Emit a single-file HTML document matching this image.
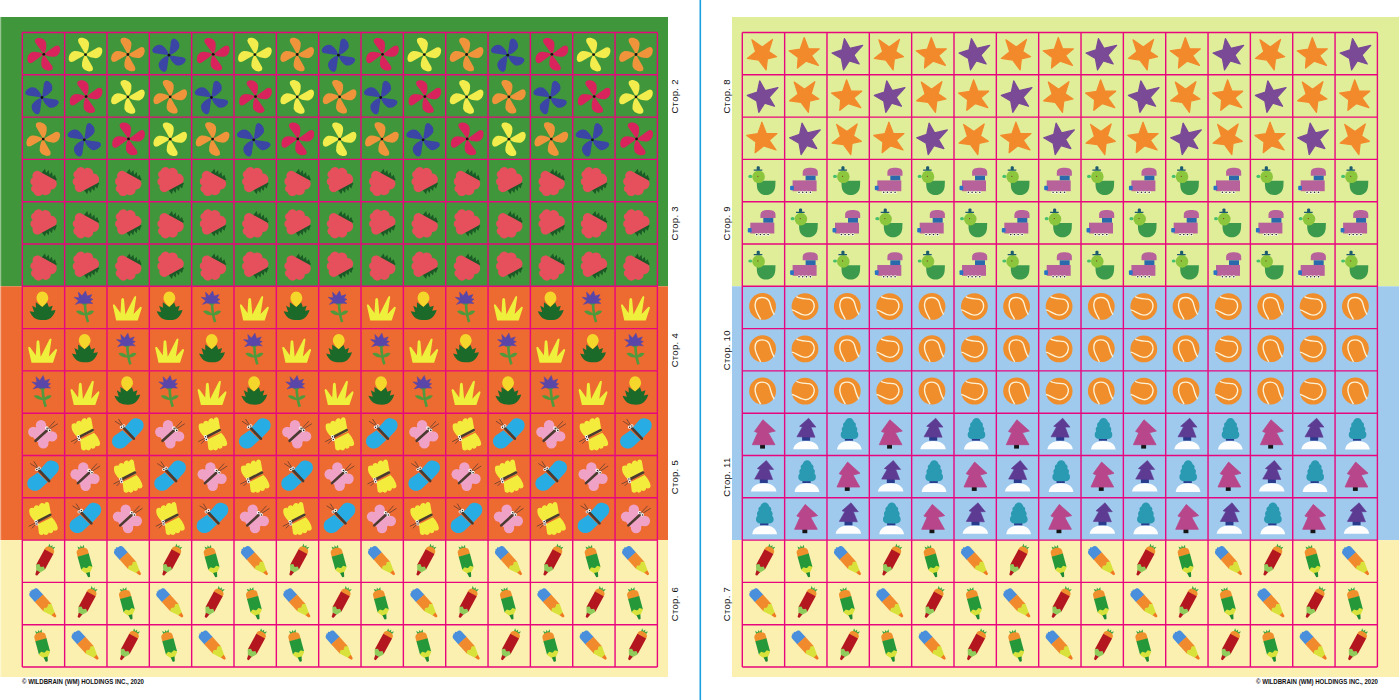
<!DOCTYPE html>
<html><head><meta charset="utf-8"><style>
html,body{margin:0;padding:0;background:#fff;width:1400px;height:700px;overflow:hidden}
svg{display:block}
.lab{font-family:"Liberation Sans",sans-serif;font-size:9.5px;letter-spacing:0.3px;fill:#111}
.ft{font-family:"Liberation Sans",sans-serif;font-size:8px;font-weight:bold;fill:#111}
</style></head><body>
<svg width="1400" height="700" viewBox="0 0 1400 700">
<defs><symbol id="pw0" overflow="visible"><g transform="translate(21.5,21.8) rotate(-14) scale(0.97)" fill="#d8235c"><path d="M0,0 L-5.4,-13.4 Q-6.4,-17.8 -2.5,-17.8 C1.6,-17.6 5,-14.6 5.2,-11 Q4.6,-4.5 0,0Z" transform="rotate(0)"/><path d="M0,0 L-5.4,-13.4 Q-6.4,-17.8 -2.5,-17.8 C1.6,-17.6 5,-14.6 5.2,-11 Q4.6,-4.5 0,0Z" transform="rotate(90)"/><path d="M0,0 L-5.4,-13.4 Q-6.4,-17.8 -2.5,-17.8 C1.6,-17.6 5,-14.6 5.2,-11 Q4.6,-4.5 0,0Z" transform="rotate(180)"/><path d="M0,0 L-5.4,-13.4 Q-6.4,-17.8 -2.5,-17.8 C1.6,-17.6 5,-14.6 5.2,-11 Q4.6,-4.5 0,0Z" transform="rotate(270)"/></g><circle cx="21.5" cy="21.8" r="1.4" fill="#111"/></symbol><symbol id="pw1" overflow="visible"><g transform="translate(20.9,22.1) rotate(-8) scale(0.97)" fill="#f2ec4c"><path d="M0,0 L-5.4,-13.4 Q-6.4,-17.8 -2.5,-17.8 C1.6,-17.6 5,-14.6 5.2,-11 Q4.6,-4.5 0,0Z" transform="rotate(0)"/><path d="M0,0 L-5.4,-13.4 Q-6.4,-17.8 -2.5,-17.8 C1.6,-17.6 5,-14.6 5.2,-11 Q4.6,-4.5 0,0Z" transform="rotate(90)"/><path d="M0,0 L-5.4,-13.4 Q-6.4,-17.8 -2.5,-17.8 C1.6,-17.6 5,-14.6 5.2,-11 Q4.6,-4.5 0,0Z" transform="rotate(180)"/><path d="M0,0 L-5.4,-13.4 Q-6.4,-17.8 -2.5,-17.8 C1.6,-17.6 5,-14.6 5.2,-11 Q4.6,-4.5 0,0Z" transform="rotate(270)"/></g><circle cx="20.9" cy="22.1" r="1.4" fill="#111"/></symbol><symbol id="pw2" overflow="visible"><g transform="translate(20.9,22.0) rotate(-8) scale(0.97)" fill="#f0943c"><path d="M0,0 L-5.4,-13.4 Q-6.4,-17.8 -2.5,-17.8 C1.6,-17.6 5,-14.6 5.2,-11 Q4.6,-4.5 0,0Z" transform="rotate(0)"/><path d="M0,0 L-5.4,-13.4 Q-6.4,-17.8 -2.5,-17.8 C1.6,-17.6 5,-14.6 5.2,-11 Q4.6,-4.5 0,0Z" transform="rotate(90)"/><path d="M0,0 L-5.4,-13.4 Q-6.4,-17.8 -2.5,-17.8 C1.6,-17.6 5,-14.6 5.2,-11 Q4.6,-4.5 0,0Z" transform="rotate(180)"/><path d="M0,0 L-5.4,-13.4 Q-6.4,-17.8 -2.5,-17.8 C1.6,-17.6 5,-14.6 5.2,-11 Q4.6,-4.5 0,0Z" transform="rotate(270)"/></g><circle cx="20.9" cy="22.0" r="1.4" fill="#111"/></symbol><symbol id="pw3" overflow="visible"><g transform="translate(19.7,22.7) rotate(30) scale(0.97)" fill="#3b45a6"><path d="M0,0 L-5.4,-13.4 Q-6.4,-17.8 -2.5,-17.8 C1.6,-17.6 5,-14.6 5.2,-11 Q4.6,-4.5 0,0Z" transform="rotate(0)"/><path d="M0,0 L-5.4,-13.4 Q-6.4,-17.8 -2.5,-17.8 C1.6,-17.6 5,-14.6 5.2,-11 Q4.6,-4.5 0,0Z" transform="rotate(90)"/><path d="M0,0 L-5.4,-13.4 Q-6.4,-17.8 -2.5,-17.8 C1.6,-17.6 5,-14.6 5.2,-11 Q4.6,-4.5 0,0Z" transform="rotate(180)"/><path d="M0,0 L-5.4,-13.4 Q-6.4,-17.8 -2.5,-17.8 C1.6,-17.6 5,-14.6 5.2,-11 Q4.6,-4.5 0,0Z" transform="rotate(270)"/></g><circle cx="19.7" cy="22.7" r="1.4" fill="#111"/></symbol><symbol id="sbA" overflow="visible"><path fill="#1a5a26" d="M18.86,14.13 L20.25,12.39 L22.71,9.39 L23.75,13.61 L26.37,10.71 L27.13,15.45 L29.66,12.72 L30.51,17.29 L32.66,15.27 L33.89,19.13 L34.76,19.94 L32.48,22.12Z"/><path fill="#e6505c" d="M16.3,11.6 L33.2,20.8 A5.91,5.91 0 0 1 28.6,30.3 A5.44,5.44 0 0 1 20,34.8 A4.98,4.98 0 0 1 11.3,33 A3.95,3.95 0 0 1 10.4,26 A4.37,4.37 0 0 1 10.4,18.2 A4.96,4.96 0 0 1 16.3,11.6Z"/></symbol><symbol id="sbB" overflow="visible"><g transform="translate(0,44.3) scale(1,-1)"><path fill="#1a5a26" d="M18.86,14.13 L20.25,12.39 L22.71,9.39 L23.75,13.61 L26.37,10.71 L27.13,15.45 L29.66,12.72 L30.51,17.29 L32.66,15.27 L33.89,19.13 L34.76,19.94 L32.48,22.12Z"/><path fill="#e6505c" d="M16.3,11.6 L33.2,20.8 A5.91,5.91 0 0 1 28.6,30.3 A5.44,5.44 0 0 1 20,34.8 A4.98,4.98 0 0 1 11.3,33 A3.95,3.95 0 0 1 10.4,26 A4.37,4.37 0 0 1 10.4,18.2 A4.96,4.96 0 0 1 16.3,11.6Z"/></g></symbol><symbol id="flT" overflow="visible"><path fill="#f5d62a" d="M20,5.3 C23.5,5.3 26,8.5 26,12 C26,15.5 22,19 20,21 C18,19 14.2,15.5 14.2,12 C14.2,8.5 16.5,5.3 20,5.3Z"/><path fill="#1b6a2a" d="M20,20.6 L24.9,16.3 L26.5,20.8 L30.4,19.4 L28.8,24.5 L33.2,23.6 C32,28 29,32 25.5,33.2 C22,34.2 16,34 12,31.6 C10,30 8.5,27.5 7.4,24.9 L11.8,25.8 L9.8,19.4 L13.6,21.5 L13.5,16Z"/></symbol><symbol id="flC" overflow="visible"><path d="M20.3,17.5 C20.5,23 21,29 23.4,35.8" stroke="#4e9a3c" stroke-width="2.6" fill="none"/><path fill="#4e9a3c" d="M11.4,24.9 C14,23.3 18.5,24.8 21.2,28.8 C17.5,29.6 13.5,27.8 11.4,24.9Z M29.5,24.9 C27,23.3 23,24.8 21,28.8 C24.5,29.6 27.5,27.8 29.5,24.9Z"/><ellipse cx="20" cy="17" rx="3" ry="1.5" fill="#4e9a3c"/><path fill="#5a46a8" stroke="#5a46a8" stroke-width="0.5" stroke-linejoin="round" d="M9.5,11 L14.5,11.5 L13.8,5.8 L17.5,9.5 L20.9,4.6 L22.5,9.8 L27.3,8.3 L25.3,12 L28.3,12.9 L25.5,15 L28.3,17.2 L23,17 L19,17.3 L15,16.8 L10.7,18.1 L14,14.5Z"/></symbol><symbol id="flG" overflow="visible"><path fill="#eef03c" d="M9.2,34.1 L5.9,19.5 Q6.2,17.2 7.8,18.6 L13.5,26.7 L14.3,13 Q15.7,10.6 17,12.8 L18.4,28.2 L27.2,10.6 Q28.9,8.8 29.2,11 L26.6,27.8 L33.4,20.5 Q35.2,20.2 34.7,22 L30.7,34.1Z"/></symbol><symbol id="bfP" overflow="visible"><g fill="#f0a2c6"><circle cx="18.7" cy="12" r="5.2"/><circle cx="11" cy="18.8" r="5.2"/><circle cx="29.8" cy="23.2" r="5.2"/><circle cx="21" cy="30.2" r="5.2"/><path d="M13.3,27.6 L8,19.5 L18.7,9 L26,16 L32,24 L21,33Z"/></g><path d="M13.3,27.6 L26,16" stroke="#4a3a30" stroke-width="2.6" stroke-linecap="round"/><path d="M26,15 L32.5,8 M27,16 L35.5,10.5" stroke="#4a3a30" stroke-width="0.7" fill="none"/><circle cx="24.5" cy="14.8" r="1.7" fill="#fff"/><circle cx="27.2" cy="17" r="1.7" fill="#fff"/><circle cx="24.8" cy="15" r="0.8" fill="#222"/><circle cx="27.4" cy="17.2" r="0.8" fill="#222"/></symbol><symbol id="bfY" overflow="visible"><g fill="#f3ec3c"><path d="M7,12.5 C7,10 10,9.5 11.5,10.5 C11.5,7.5 15,6.5 16.5,8.5 C17,5 20.5,4 22,6.5 C23,3 27,3.5 27,7 L29,18.5 L14,24.5 C9,21 6.5,16 7,12.5Z"/><path d="M15.5,26.5 L29.5,19.5 C33,23 35.5,28 35.5,30.5 C35.5,33 32,33.5 31,32.5 C31,35.5 27.5,36.5 26.5,34.5 C26,37.5 22.5,38 21.5,36 C20,38 16.5,37.5 16.5,34.5Z"/></g><path d="M14.3,24 L28,17" stroke="#4a3a30" stroke-width="2.6" stroke-linecap="round"/><path d="M13.5,25 L6.5,28.5 M14,26 L9.5,30.5" stroke="#4a3a30" stroke-width="0.7" fill="none"/><circle cx="13.8" cy="23.5" r="1.6" fill="#fff"/><circle cx="14.6" cy="26.2" r="1.6" fill="#fff"/><circle cx="13.8" cy="23.6" r="0.75" fill="#222"/><circle cx="14.6" cy="26.3" r="0.75" fill="#222"/></symbol><symbol id="bfB" overflow="visible"><g fill="#27ade4"><path d="M17.5,14.5 L24,7 C27,4 32,4.5 35,7.5 C37.5,10.5 37,15 34,18 L27.5,25Z"/><path d="M15.5,17 L25.5,26.5 L18,33.5 C15,36 10,36 7,33 C4,30 4.5,25 7.5,22.5Z"/></g><path d="M16,14 L26.8,25.5" stroke="#4a3a30" stroke-width="2.6" stroke-linecap="round"/><path d="M15,12.5 L8,8 M15.5,12 L11.5,5.8" stroke="#4a3a30" stroke-width="0.7" fill="none"/><circle cx="14.5" cy="14" r="1.6" fill="#fff"/><circle cx="16.8" cy="12.6" r="1.6" fill="#fff"/><circle cx="14.5" cy="14.1" r="0.75" fill="#222"/><circle cx="16.8" cy="12.7" r="0.75" fill="#222"/></symbol><symbol id="pcR" overflow="visible"><g transform="translate(21.9,20.2) rotate(28.4)"><path fill="#3aa844" d="M-2.8,-13.2 L-3.4,-17.2 L-1,-15.2 L0,-17.5 L1,-15.2 L3.4,-17.2 L2.8,-13.2Z"/><path fill="#f0902c" d="M-5.0,-9.5 L-5.0,-10.7 C-5.0,-13.7 -2.5,-14.7 0,-14.7 C2.5,-14.7 5.0,-13.7 5.0,-10.7 L5.0,-9.5Z"/><path fill="#b3161e" d="M-5.0,-10 L5.0,-10 L5.0,7.7 L-5.0,7.7Z"/><path fill="#8fcc5c" d="M-5.0,7.5 L-2.5,5.7 L0,7.5 L2.5,5.7 L5.0,7.5 L4.75,8.5 L2,13.1 L-2,13.1 L-4.75,8.5Z"/><path fill="#b3161e" d="M-2,12.5 L2,12.5 L1.1,16.7 Q0,17.5 -1.1,16.7Z"/></g></symbol><symbol id="pcG" overflow="visible"><g transform="translate(20.3,21.3) rotate(-15.2)"><path fill="#3aa844" d="M-2.8,-12.399999999999999 L-3.4,-16.4 L-1,-14.399999999999999 L0,-16.7 L1,-14.399999999999999 L3.4,-16.4 L2.8,-12.399999999999999Z"/><path fill="#f0902c" d="M-5.8,-6.0 L-5.8,-9.899999999999999 C-5.8,-12.899999999999999 -2.5,-13.899999999999999 0,-13.899999999999999 C2.5,-13.899999999999999 5.8,-12.899999999999999 5.8,-9.899999999999999 L5.8,-6.0Z"/><path fill="#25993a" d="M-5.8,-6.5 L5.8,-6.5 L5.8,7.2 L-5.8,7.2Z"/><path fill="#d9e23a" d="M-5.8,7 L-2.9,5.2 L0,7 L2.9,5.2 L5.8,7 L5.51,8 L2,12.1 L-2,12.1 L-5.51,8Z"/><path fill="#1e8a33" d="M-2,11.5 L2,11.5 L1.1,15.899999999999999 Q0,16.7 -1.1,15.899999999999999Z"/></g></symbol><symbol id="pcO" overflow="visible"><g transform="translate(21.3,21.0) rotate(-42)"><path fill="#4a8fdc" d="M-5.5,-6.6 L-5.5,-13.899999999999999 C-5.5,-16.4 -3.5,-17.2 -2.5,-17.2 L-2.5,-18.4 L-1,-17.4 L0.5,-18.4 L1.2,-17.2 C3.5,-17.2 5.5,-16.4 5.5,-13.899999999999999 L5.5,-6.6Z"/><path fill="#f08a2c" d="M-5.5,-7 L5.5,-7 L5.5,5.7 L-5.5,5.7Z"/><path fill="#d8e23a" d="M-5.5,5.5 L-2.75,3.7 L0,5.5 L2.75,3.7 L5.5,5.5 L5.225,6.5 L2,14.6 L-2,14.6 L-5.225,6.5Z"/><path fill="#f07a22" d="M-2,14 L2,14 L1.1,17.9 Q0,18.7 -1.1,17.9Z"/></g></symbol><symbol id="stA" overflow="visible"><path d="M30.2,6.9 L26.5,18.9 L34.3,24.2 L25.1,26.3 L23.8,37.5 L16.5,27.6 L5.0,26.0 L13.4,19.3 L9.6,7.3 L19.9,14.5Z" fill="#f28a2c" stroke="#f28a2c" stroke-width="1.2" stroke-linejoin="round"/></symbol><symbol id="stB" overflow="visible"><path d="M19.6,5.0 L23.9,16.2 L34.7,16.4 L26.9,23.1 L33.8,32.9 L21.4,28.8 L12.8,35.6 L13.6,24.9 L4.5,18.3 L15.6,16.6Z" fill="#f28a2c" stroke="#f28a2c" stroke-width="1.2" stroke-linejoin="round"/></symbol><symbol id="stC" overflow="visible"><path d="M17.4,6.0 L22.9,15.8 L35.7,12.8 L26.9,22.5 L32.2,31.5 L22.3,28.5 L16.5,37.5 L14.4,26.1 L5.0,20.6 L15.0,17.3Z" fill="#7a4a96" stroke="#7a4a96" stroke-width="1.2" stroke-linejoin="round"/></symbol><symbol id="dk" overflow="visible"><path fill="#3c9a4c" d="M14.4,21.3 L33.2,21.3 L33,26.5 C32.6,32.5 28.5,35.6 23.8,35.6 C19,35.6 14.9,32.5 14.6,26.5Z"/><ellipse cx="8" cy="17" rx="2" ry="1.6" fill="#45c06c"/><circle cx="16.3" cy="17.4" r="6.3" fill="#8cc63c"/><circle cx="15.6" cy="16.9" r="0.6" fill="#7a3a20"/><path fill="#1c5a6e" d="M14.4,10 L14.4,7.5 C14.4,6.5 17.5,6.5 17.5,7.5 L17.5,10 L20,10 L20,11.3 L11.4,11.3 L11.4,10Z"/></symbol><symbol id="sh" overflow="visible"><path fill="#b8629c" d="M18.1,16.3 L18.1,13 C18.1,9 22,8.3 25.6,8.3 C29.5,8.3 33.2,9 33.2,13 L33.2,16.3Z"/><rect x="21" y="16.3" width="10" height="4.8" fill="#2a6aac"/><rect x="8" y="21" width="24" height="10.8" fill="#b8629c"/><rect x="5.5" y="26.3" width="3.8" height="4.6" rx="1" fill="#2a72c4"/><g fill="#fff"><circle cx="14.4" cy="32.8" r="1.5"/><circle cx="18.1" cy="32.8" r="1.5"/><circle cx="21.8" cy="32.8" r="1.5"/><circle cx="25.8" cy="32.8" r="1.5"/></g><g fill="#222"><circle cx="14.4" cy="32.8" r="0.8"/><circle cx="18.1" cy="32.8" r="0.8"/><circle cx="21.8" cy="32.8" r="0.8"/><circle cx="25.8" cy="32.8" r="0.8"/></g></symbol><symbol id="tbA" overflow="visible"><circle cx="20.3" cy="20.1" r="13.4" fill="#f08e2c"/><path d="M18.4,33.2 C16,29 12.6,24 12.8,18.5 C13,13 16,11.2 19.5,11.2 C23,11.2 26.5,13 27.5,16.5 C28.5,20 29.5,25 32,28.3" stroke="#fbf3d8" stroke-width="1.35" fill="none"/></symbol><symbol id="tbB" overflow="visible"><circle cx="20.4" cy="20.3" r="13.4" fill="#f08e2c"/><path d="M11.8,10.2 C14,12.5 20,12.3 24.5,12.8 C28,13.5 30,17 29.6,20.5 C29.2,25 25,28.8 20.5,28.8 C15,28.5 11,24 7.3,23.6" stroke="#fbf3d8" stroke-width="1.35" fill="none"/></symbol><symbol id="trP" overflow="visible"><rect x="17.8" y="31" width="4.9" height="4.4" fill="#151515"/><path fill="#b8468a" stroke="#b8468a" stroke-width="0.8" stroke-linejoin="round" d="M20.6,6.6 L33,17.8 L26,19.5 L32.7,31.5 L10,31.5 L15.4,19.5 L12.2,18.2Z"/></symbol><symbol id="trU" overflow="visible"><path fill="#fefefe" d="M8.6,36 C9.5,31 14,27.8 21.5,27.8 C29,27.8 33.5,31 34.1,36Z"/><rect x="17.5" y="23" width="8" height="4.5" fill="#2a3a8c"/><path fill="#5e3b92" stroke="#5e3b92" stroke-width="0.6" stroke-linejoin="round" d="M24,5 L31.3,13.9 L26.4,13.9 L30.4,24 L12.3,23.6 L17.8,13.9 L15,13Z"/></symbol><symbol id="trT" overflow="visible"><path fill="#fefefe" d="M10,36.4 C10.5,31 15,27.8 22.3,27.8 C29.5,27.8 34,31 34.7,36.4Z"/><rect x="17.8" y="24" width="8.3" height="3.5" fill="#2a3a8c"/><path fill="#2a9ab2" d="M22.6,4.8 C24.8,4.8 26.6,6.5 27,8.8 C28.8,9.4 29.4,11.5 28.6,13 C30.3,13.8 30.8,16.5 29.8,18 C31.3,19 31.8,22 30.8,23.8 C29.8,25.5 27.5,25.8 25,25.8 L20,25.8 C17.5,25.8 15,25.5 14.2,23.8 C13.2,22 13.7,19 15.2,18 C14.2,16.5 14.7,13.8 16.4,13 C15.6,11.5 16.2,9.4 18,8.8 C18.4,6.5 20.2,4.8 22.6,4.8Z"/></symbol></defs>
<rect x="0" y="17" width="668" height="269.29999999999995" fill="#40963a"/>
<rect x="0" y="286.29999999999995" width="668" height="253.79999999999995" fill="#ed6a30"/>
<rect x="0" y="540.0999999999999" width="668" height="136.9000000000001" fill="#fcf0b0"/>
<rect x="732" y="17" width="667" height="269.29999999999995" fill="#e0ee9a"/>
<rect x="732" y="286.29999999999995" width="667" height="253.79999999999995" fill="#9fcaee"/>
<rect x="732" y="540.0999999999999" width="667" height="136.9000000000001" fill="#fcf0b0"/>
<rect x="0" y="17" width="1.2" height="660" fill="#fff" fill-opacity="0.45"/>
<use href="#pw0" x="22.3" y="32.5"/>
<use href="#stA" x="742.3" y="32.5"/>
<use href="#pw1" x="64.6" y="32.5"/>
<use href="#stB" x="784.6" y="32.5"/>
<use href="#pw2" x="107.0" y="32.5"/>
<use href="#stC" x="827.0" y="32.5"/>
<use href="#pw3" x="149.3" y="32.5"/>
<use href="#stA" x="869.3" y="32.5"/>
<use href="#pw0" x="191.7" y="32.5"/>
<use href="#stB" x="911.7" y="32.5"/>
<use href="#pw1" x="234.0" y="32.5"/>
<use href="#stC" x="954.0" y="32.5"/>
<use href="#pw2" x="276.3" y="32.5"/>
<use href="#stA" x="996.3" y="32.5"/>
<use href="#pw3" x="318.7" y="32.5"/>
<use href="#stB" x="1038.7" y="32.5"/>
<use href="#pw0" x="361.0" y="32.5"/>
<use href="#stC" x="1081.0" y="32.5"/>
<use href="#pw1" x="403.4" y="32.5"/>
<use href="#stA" x="1123.4" y="32.5"/>
<use href="#pw2" x="445.7" y="32.5"/>
<use href="#stB" x="1165.7" y="32.5"/>
<use href="#pw3" x="488.0" y="32.5"/>
<use href="#stC" x="1208.0" y="32.5"/>
<use href="#pw0" x="530.4" y="32.5"/>
<use href="#stA" x="1250.4" y="32.5"/>
<use href="#pw1" x="572.7" y="32.5"/>
<use href="#stB" x="1292.7" y="32.5"/>
<use href="#pw2" x="615.1" y="32.5"/>
<use href="#stC" x="1335.1" y="32.5"/>
<use href="#pw3" x="22.3" y="74.8"/>
<use href="#stC" x="742.3" y="74.8"/>
<use href="#pw0" x="64.6" y="74.8"/>
<use href="#stA" x="784.6" y="74.8"/>
<use href="#pw1" x="107.0" y="74.8"/>
<use href="#stB" x="827.0" y="74.8"/>
<use href="#pw2" x="149.3" y="74.8"/>
<use href="#stC" x="869.3" y="74.8"/>
<use href="#pw3" x="191.7" y="74.8"/>
<use href="#stA" x="911.7" y="74.8"/>
<use href="#pw0" x="234.0" y="74.8"/>
<use href="#stB" x="954.0" y="74.8"/>
<use href="#pw1" x="276.3" y="74.8"/>
<use href="#stC" x="996.3" y="74.8"/>
<use href="#pw2" x="318.7" y="74.8"/>
<use href="#stA" x="1038.7" y="74.8"/>
<use href="#pw3" x="361.0" y="74.8"/>
<use href="#stB" x="1081.0" y="74.8"/>
<use href="#pw0" x="403.4" y="74.8"/>
<use href="#stC" x="1123.4" y="74.8"/>
<use href="#pw1" x="445.7" y="74.8"/>
<use href="#stA" x="1165.7" y="74.8"/>
<use href="#pw2" x="488.0" y="74.8"/>
<use href="#stB" x="1208.0" y="74.8"/>
<use href="#pw3" x="530.4" y="74.8"/>
<use href="#stC" x="1250.4" y="74.8"/>
<use href="#pw0" x="572.7" y="74.8"/>
<use href="#stA" x="1292.7" y="74.8"/>
<use href="#pw1" x="615.1" y="74.8"/>
<use href="#stB" x="1335.1" y="74.8"/>
<use href="#pw2" x="22.3" y="117.1"/>
<use href="#stB" x="742.3" y="117.1"/>
<use href="#pw3" x="64.6" y="117.1"/>
<use href="#stC" x="784.6" y="117.1"/>
<use href="#pw0" x="107.0" y="117.1"/>
<use href="#stA" x="827.0" y="117.1"/>
<use href="#pw1" x="149.3" y="117.1"/>
<use href="#stB" x="869.3" y="117.1"/>
<use href="#pw2" x="191.7" y="117.1"/>
<use href="#stC" x="911.7" y="117.1"/>
<use href="#pw3" x="234.0" y="117.1"/>
<use href="#stA" x="954.0" y="117.1"/>
<use href="#pw0" x="276.3" y="117.1"/>
<use href="#stB" x="996.3" y="117.1"/>
<use href="#pw1" x="318.7" y="117.1"/>
<use href="#stC" x="1038.7" y="117.1"/>
<use href="#pw2" x="361.0" y="117.1"/>
<use href="#stA" x="1081.0" y="117.1"/>
<use href="#pw3" x="403.4" y="117.1"/>
<use href="#stB" x="1123.4" y="117.1"/>
<use href="#pw0" x="445.7" y="117.1"/>
<use href="#stC" x="1165.7" y="117.1"/>
<use href="#pw1" x="488.0" y="117.1"/>
<use href="#stA" x="1208.0" y="117.1"/>
<use href="#pw2" x="530.4" y="117.1"/>
<use href="#stB" x="1250.4" y="117.1"/>
<use href="#pw3" x="572.7" y="117.1"/>
<use href="#stC" x="1292.7" y="117.1"/>
<use href="#pw0" x="615.1" y="117.1"/>
<use href="#stA" x="1335.1" y="117.1"/>
<use href="#sbA" x="22.3" y="159.4"/>
<use href="#dk" x="742.3" y="159.4"/>
<use href="#sbB" x="64.6" y="159.4"/>
<use href="#sh" x="784.6" y="159.4"/>
<use href="#sbA" x="107.0" y="159.4"/>
<use href="#dk" x="827.0" y="159.4"/>
<use href="#sbB" x="149.3" y="159.4"/>
<use href="#sh" x="869.3" y="159.4"/>
<use href="#sbA" x="191.7" y="159.4"/>
<use href="#dk" x="911.7" y="159.4"/>
<use href="#sbB" x="234.0" y="159.4"/>
<use href="#sh" x="954.0" y="159.4"/>
<use href="#sbA" x="276.3" y="159.4"/>
<use href="#dk" x="996.3" y="159.4"/>
<use href="#sbB" x="318.7" y="159.4"/>
<use href="#sh" x="1038.7" y="159.4"/>
<use href="#sbA" x="361.0" y="159.4"/>
<use href="#dk" x="1081.0" y="159.4"/>
<use href="#sbB" x="403.4" y="159.4"/>
<use href="#sh" x="1123.4" y="159.4"/>
<use href="#sbA" x="445.7" y="159.4"/>
<use href="#dk" x="1165.7" y="159.4"/>
<use href="#sbB" x="488.0" y="159.4"/>
<use href="#sh" x="1208.0" y="159.4"/>
<use href="#sbA" x="530.4" y="159.4"/>
<use href="#dk" x="1250.4" y="159.4"/>
<use href="#sbB" x="572.7" y="159.4"/>
<use href="#sh" x="1292.7" y="159.4"/>
<use href="#sbA" x="615.1" y="159.4"/>
<use href="#dk" x="1335.1" y="159.4"/>
<use href="#sbB" x="22.3" y="201.7"/>
<use href="#sh" x="742.3" y="201.7"/>
<use href="#sbA" x="64.6" y="201.7"/>
<use href="#dk" x="784.6" y="201.7"/>
<use href="#sbB" x="107.0" y="201.7"/>
<use href="#sh" x="827.0" y="201.7"/>
<use href="#sbA" x="149.3" y="201.7"/>
<use href="#dk" x="869.3" y="201.7"/>
<use href="#sbB" x="191.7" y="201.7"/>
<use href="#sh" x="911.7" y="201.7"/>
<use href="#sbA" x="234.0" y="201.7"/>
<use href="#dk" x="954.0" y="201.7"/>
<use href="#sbB" x="276.3" y="201.7"/>
<use href="#sh" x="996.3" y="201.7"/>
<use href="#sbA" x="318.7" y="201.7"/>
<use href="#dk" x="1038.7" y="201.7"/>
<use href="#sbB" x="361.0" y="201.7"/>
<use href="#sh" x="1081.0" y="201.7"/>
<use href="#sbA" x="403.4" y="201.7"/>
<use href="#dk" x="1123.4" y="201.7"/>
<use href="#sbB" x="445.7" y="201.7"/>
<use href="#sh" x="1165.7" y="201.7"/>
<use href="#sbA" x="488.0" y="201.7"/>
<use href="#dk" x="1208.0" y="201.7"/>
<use href="#sbB" x="530.4" y="201.7"/>
<use href="#sh" x="1250.4" y="201.7"/>
<use href="#sbA" x="572.7" y="201.7"/>
<use href="#dk" x="1292.7" y="201.7"/>
<use href="#sbB" x="615.1" y="201.7"/>
<use href="#sh" x="1335.1" y="201.7"/>
<use href="#sbA" x="22.3" y="244.0"/>
<use href="#dk" x="742.3" y="244.0"/>
<use href="#sbB" x="64.6" y="244.0"/>
<use href="#sh" x="784.6" y="244.0"/>
<use href="#sbA" x="107.0" y="244.0"/>
<use href="#dk" x="827.0" y="244.0"/>
<use href="#sbB" x="149.3" y="244.0"/>
<use href="#sh" x="869.3" y="244.0"/>
<use href="#sbA" x="191.7" y="244.0"/>
<use href="#dk" x="911.7" y="244.0"/>
<use href="#sbB" x="234.0" y="244.0"/>
<use href="#sh" x="954.0" y="244.0"/>
<use href="#sbA" x="276.3" y="244.0"/>
<use href="#dk" x="996.3" y="244.0"/>
<use href="#sbB" x="318.7" y="244.0"/>
<use href="#sh" x="1038.7" y="244.0"/>
<use href="#sbA" x="361.0" y="244.0"/>
<use href="#dk" x="1081.0" y="244.0"/>
<use href="#sbB" x="403.4" y="244.0"/>
<use href="#sh" x="1123.4" y="244.0"/>
<use href="#sbA" x="445.7" y="244.0"/>
<use href="#dk" x="1165.7" y="244.0"/>
<use href="#sbB" x="488.0" y="244.0"/>
<use href="#sh" x="1208.0" y="244.0"/>
<use href="#sbA" x="530.4" y="244.0"/>
<use href="#dk" x="1250.4" y="244.0"/>
<use href="#sbB" x="572.7" y="244.0"/>
<use href="#sh" x="1292.7" y="244.0"/>
<use href="#sbA" x="615.1" y="244.0"/>
<use href="#dk" x="1335.1" y="244.0"/>
<use href="#flT" x="22.3" y="286.3"/>
<use href="#tbA" x="742.3" y="286.3"/>
<use href="#flC" x="64.6" y="286.3"/>
<use href="#tbB" x="784.6" y="286.3"/>
<use href="#flG" x="107.0" y="286.3"/>
<use href="#tbA" x="827.0" y="286.3"/>
<use href="#flT" x="149.3" y="286.3"/>
<use href="#tbB" x="869.3" y="286.3"/>
<use href="#flC" x="191.7" y="286.3"/>
<use href="#tbA" x="911.7" y="286.3"/>
<use href="#flG" x="234.0" y="286.3"/>
<use href="#tbB" x="954.0" y="286.3"/>
<use href="#flT" x="276.3" y="286.3"/>
<use href="#tbA" x="996.3" y="286.3"/>
<use href="#flC" x="318.7" y="286.3"/>
<use href="#tbB" x="1038.7" y="286.3"/>
<use href="#flG" x="361.0" y="286.3"/>
<use href="#tbA" x="1081.0" y="286.3"/>
<use href="#flT" x="403.4" y="286.3"/>
<use href="#tbB" x="1123.4" y="286.3"/>
<use href="#flC" x="445.7" y="286.3"/>
<use href="#tbA" x="1165.7" y="286.3"/>
<use href="#flG" x="488.0" y="286.3"/>
<use href="#tbB" x="1208.0" y="286.3"/>
<use href="#flT" x="530.4" y="286.3"/>
<use href="#tbA" x="1250.4" y="286.3"/>
<use href="#flC" x="572.7" y="286.3"/>
<use href="#tbB" x="1292.7" y="286.3"/>
<use href="#flG" x="615.1" y="286.3"/>
<use href="#tbA" x="1335.1" y="286.3"/>
<use href="#flG" x="22.3" y="328.6"/>
<use href="#tbA" x="742.3" y="328.6"/>
<use href="#flT" x="64.6" y="328.6"/>
<use href="#tbB" x="784.6" y="328.6"/>
<use href="#flC" x="107.0" y="328.6"/>
<use href="#tbA" x="827.0" y="328.6"/>
<use href="#flG" x="149.3" y="328.6"/>
<use href="#tbB" x="869.3" y="328.6"/>
<use href="#flT" x="191.7" y="328.6"/>
<use href="#tbA" x="911.7" y="328.6"/>
<use href="#flC" x="234.0" y="328.6"/>
<use href="#tbB" x="954.0" y="328.6"/>
<use href="#flG" x="276.3" y="328.6"/>
<use href="#tbA" x="996.3" y="328.6"/>
<use href="#flT" x="318.7" y="328.6"/>
<use href="#tbB" x="1038.7" y="328.6"/>
<use href="#flC" x="361.0" y="328.6"/>
<use href="#tbA" x="1081.0" y="328.6"/>
<use href="#flG" x="403.4" y="328.6"/>
<use href="#tbB" x="1123.4" y="328.6"/>
<use href="#flT" x="445.7" y="328.6"/>
<use href="#tbA" x="1165.7" y="328.6"/>
<use href="#flC" x="488.0" y="328.6"/>
<use href="#tbB" x="1208.0" y="328.6"/>
<use href="#flG" x="530.4" y="328.6"/>
<use href="#tbA" x="1250.4" y="328.6"/>
<use href="#flT" x="572.7" y="328.6"/>
<use href="#tbB" x="1292.7" y="328.6"/>
<use href="#flC" x="615.1" y="328.6"/>
<use href="#tbA" x="1335.1" y="328.6"/>
<use href="#flC" x="22.3" y="370.9"/>
<use href="#tbA" x="742.3" y="370.9"/>
<use href="#flG" x="64.6" y="370.9"/>
<use href="#tbB" x="784.6" y="370.9"/>
<use href="#flT" x="107.0" y="370.9"/>
<use href="#tbA" x="827.0" y="370.9"/>
<use href="#flC" x="149.3" y="370.9"/>
<use href="#tbB" x="869.3" y="370.9"/>
<use href="#flG" x="191.7" y="370.9"/>
<use href="#tbA" x="911.7" y="370.9"/>
<use href="#flT" x="234.0" y="370.9"/>
<use href="#tbB" x="954.0" y="370.9"/>
<use href="#flC" x="276.3" y="370.9"/>
<use href="#tbA" x="996.3" y="370.9"/>
<use href="#flG" x="318.7" y="370.9"/>
<use href="#tbB" x="1038.7" y="370.9"/>
<use href="#flT" x="361.0" y="370.9"/>
<use href="#tbA" x="1081.0" y="370.9"/>
<use href="#flC" x="403.4" y="370.9"/>
<use href="#tbB" x="1123.4" y="370.9"/>
<use href="#flG" x="445.7" y="370.9"/>
<use href="#tbA" x="1165.7" y="370.9"/>
<use href="#flT" x="488.0" y="370.9"/>
<use href="#tbB" x="1208.0" y="370.9"/>
<use href="#flC" x="530.4" y="370.9"/>
<use href="#tbA" x="1250.4" y="370.9"/>
<use href="#flG" x="572.7" y="370.9"/>
<use href="#tbB" x="1292.7" y="370.9"/>
<use href="#flT" x="615.1" y="370.9"/>
<use href="#tbA" x="1335.1" y="370.9"/>
<use href="#bfP" x="22.3" y="413.2"/>
<use href="#trP" x="742.3" y="413.2"/>
<use href="#bfY" x="64.6" y="413.2"/>
<use href="#trU" x="784.6" y="413.2"/>
<use href="#bfB" x="107.0" y="413.2"/>
<use href="#trT" x="827.0" y="413.2"/>
<use href="#bfP" x="149.3" y="413.2"/>
<use href="#trP" x="869.3" y="413.2"/>
<use href="#bfY" x="191.7" y="413.2"/>
<use href="#trU" x="911.7" y="413.2"/>
<use href="#bfB" x="234.0" y="413.2"/>
<use href="#trT" x="954.0" y="413.2"/>
<use href="#bfP" x="276.3" y="413.2"/>
<use href="#trP" x="996.3" y="413.2"/>
<use href="#bfY" x="318.7" y="413.2"/>
<use href="#trU" x="1038.7" y="413.2"/>
<use href="#bfB" x="361.0" y="413.2"/>
<use href="#trT" x="1081.0" y="413.2"/>
<use href="#bfP" x="403.4" y="413.2"/>
<use href="#trP" x="1123.4" y="413.2"/>
<use href="#bfY" x="445.7" y="413.2"/>
<use href="#trU" x="1165.7" y="413.2"/>
<use href="#bfB" x="488.0" y="413.2"/>
<use href="#trT" x="1208.0" y="413.2"/>
<use href="#bfP" x="530.4" y="413.2"/>
<use href="#trP" x="1250.4" y="413.2"/>
<use href="#bfY" x="572.7" y="413.2"/>
<use href="#trU" x="1292.7" y="413.2"/>
<use href="#bfB" x="615.1" y="413.2"/>
<use href="#trT" x="1335.1" y="413.2"/>
<use href="#bfB" x="22.3" y="455.5"/>
<use href="#trU" x="742.3" y="455.5"/>
<use href="#bfP" x="64.6" y="455.5"/>
<use href="#trT" x="784.6" y="455.5"/>
<use href="#bfY" x="107.0" y="455.5"/>
<use href="#trP" x="827.0" y="455.5"/>
<use href="#bfB" x="149.3" y="455.5"/>
<use href="#trU" x="869.3" y="455.5"/>
<use href="#bfP" x="191.7" y="455.5"/>
<use href="#trT" x="911.7" y="455.5"/>
<use href="#bfY" x="234.0" y="455.5"/>
<use href="#trP" x="954.0" y="455.5"/>
<use href="#bfB" x="276.3" y="455.5"/>
<use href="#trU" x="996.3" y="455.5"/>
<use href="#bfP" x="318.7" y="455.5"/>
<use href="#trT" x="1038.7" y="455.5"/>
<use href="#bfY" x="361.0" y="455.5"/>
<use href="#trP" x="1081.0" y="455.5"/>
<use href="#bfB" x="403.4" y="455.5"/>
<use href="#trU" x="1123.4" y="455.5"/>
<use href="#bfP" x="445.7" y="455.5"/>
<use href="#trT" x="1165.7" y="455.5"/>
<use href="#bfY" x="488.0" y="455.5"/>
<use href="#trP" x="1208.0" y="455.5"/>
<use href="#bfB" x="530.4" y="455.5"/>
<use href="#trU" x="1250.4" y="455.5"/>
<use href="#bfP" x="572.7" y="455.5"/>
<use href="#trT" x="1292.7" y="455.5"/>
<use href="#bfY" x="615.1" y="455.5"/>
<use href="#trP" x="1335.1" y="455.5"/>
<use href="#bfY" x="22.3" y="497.8"/>
<use href="#trT" x="742.3" y="497.8"/>
<use href="#bfB" x="64.6" y="497.8"/>
<use href="#trP" x="784.6" y="497.8"/>
<use href="#bfP" x="107.0" y="497.8"/>
<use href="#trU" x="827.0" y="497.8"/>
<use href="#bfY" x="149.3" y="497.8"/>
<use href="#trT" x="869.3" y="497.8"/>
<use href="#bfB" x="191.7" y="497.8"/>
<use href="#trP" x="911.7" y="497.8"/>
<use href="#bfP" x="234.0" y="497.8"/>
<use href="#trU" x="954.0" y="497.8"/>
<use href="#bfY" x="276.3" y="497.8"/>
<use href="#trT" x="996.3" y="497.8"/>
<use href="#bfB" x="318.7" y="497.8"/>
<use href="#trP" x="1038.7" y="497.8"/>
<use href="#bfP" x="361.0" y="497.8"/>
<use href="#trU" x="1081.0" y="497.8"/>
<use href="#bfY" x="403.4" y="497.8"/>
<use href="#trT" x="1123.4" y="497.8"/>
<use href="#bfB" x="445.7" y="497.8"/>
<use href="#trP" x="1165.7" y="497.8"/>
<use href="#bfP" x="488.0" y="497.8"/>
<use href="#trU" x="1208.0" y="497.8"/>
<use href="#bfY" x="530.4" y="497.8"/>
<use href="#trT" x="1250.4" y="497.8"/>
<use href="#bfB" x="572.7" y="497.8"/>
<use href="#trP" x="1292.7" y="497.8"/>
<use href="#bfP" x="615.1" y="497.8"/>
<use href="#trU" x="1335.1" y="497.8"/>
<use href="#pcR" x="22.3" y="540.1"/>
<use href="#pcR" x="742.3" y="540.1"/>
<use href="#pcG" x="64.6" y="540.1"/>
<use href="#pcG" x="784.6" y="540.1"/>
<use href="#pcO" x="107.0" y="540.1"/>
<use href="#pcO" x="827.0" y="540.1"/>
<use href="#pcR" x="149.3" y="540.1"/>
<use href="#pcR" x="869.3" y="540.1"/>
<use href="#pcG" x="191.7" y="540.1"/>
<use href="#pcG" x="911.7" y="540.1"/>
<use href="#pcO" x="234.0" y="540.1"/>
<use href="#pcO" x="954.0" y="540.1"/>
<use href="#pcR" x="276.3" y="540.1"/>
<use href="#pcR" x="996.3" y="540.1"/>
<use href="#pcG" x="318.7" y="540.1"/>
<use href="#pcG" x="1038.7" y="540.1"/>
<use href="#pcO" x="361.0" y="540.1"/>
<use href="#pcO" x="1081.0" y="540.1"/>
<use href="#pcR" x="403.4" y="540.1"/>
<use href="#pcR" x="1123.4" y="540.1"/>
<use href="#pcG" x="445.7" y="540.1"/>
<use href="#pcG" x="1165.7" y="540.1"/>
<use href="#pcO" x="488.0" y="540.1"/>
<use href="#pcO" x="1208.0" y="540.1"/>
<use href="#pcR" x="530.4" y="540.1"/>
<use href="#pcR" x="1250.4" y="540.1"/>
<use href="#pcG" x="572.7" y="540.1"/>
<use href="#pcG" x="1292.7" y="540.1"/>
<use href="#pcO" x="615.1" y="540.1"/>
<use href="#pcO" x="1335.1" y="540.1"/>
<use href="#pcO" x="22.3" y="582.4"/>
<use href="#pcO" x="742.3" y="582.4"/>
<use href="#pcR" x="64.6" y="582.4"/>
<use href="#pcR" x="784.6" y="582.4"/>
<use href="#pcG" x="107.0" y="582.4"/>
<use href="#pcG" x="827.0" y="582.4"/>
<use href="#pcO" x="149.3" y="582.4"/>
<use href="#pcO" x="869.3" y="582.4"/>
<use href="#pcR" x="191.7" y="582.4"/>
<use href="#pcR" x="911.7" y="582.4"/>
<use href="#pcG" x="234.0" y="582.4"/>
<use href="#pcG" x="954.0" y="582.4"/>
<use href="#pcO" x="276.3" y="582.4"/>
<use href="#pcO" x="996.3" y="582.4"/>
<use href="#pcR" x="318.7" y="582.4"/>
<use href="#pcR" x="1038.7" y="582.4"/>
<use href="#pcG" x="361.0" y="582.4"/>
<use href="#pcG" x="1081.0" y="582.4"/>
<use href="#pcO" x="403.4" y="582.4"/>
<use href="#pcO" x="1123.4" y="582.4"/>
<use href="#pcR" x="445.7" y="582.4"/>
<use href="#pcR" x="1165.7" y="582.4"/>
<use href="#pcG" x="488.0" y="582.4"/>
<use href="#pcG" x="1208.0" y="582.4"/>
<use href="#pcO" x="530.4" y="582.4"/>
<use href="#pcO" x="1250.4" y="582.4"/>
<use href="#pcR" x="572.7" y="582.4"/>
<use href="#pcR" x="1292.7" y="582.4"/>
<use href="#pcG" x="615.1" y="582.4"/>
<use href="#pcG" x="1335.1" y="582.4"/>
<use href="#pcG" x="22.3" y="624.7"/>
<use href="#pcG" x="742.3" y="624.7"/>
<use href="#pcO" x="64.6" y="624.7"/>
<use href="#pcO" x="784.6" y="624.7"/>
<use href="#pcR" x="107.0" y="624.7"/>
<use href="#pcR" x="827.0" y="624.7"/>
<use href="#pcG" x="149.3" y="624.7"/>
<use href="#pcG" x="869.3" y="624.7"/>
<use href="#pcO" x="191.7" y="624.7"/>
<use href="#pcO" x="911.7" y="624.7"/>
<use href="#pcR" x="234.0" y="624.7"/>
<use href="#pcR" x="954.0" y="624.7"/>
<use href="#pcG" x="276.3" y="624.7"/>
<use href="#pcG" x="996.3" y="624.7"/>
<use href="#pcO" x="318.7" y="624.7"/>
<use href="#pcO" x="1038.7" y="624.7"/>
<use href="#pcR" x="361.0" y="624.7"/>
<use href="#pcR" x="1081.0" y="624.7"/>
<use href="#pcG" x="403.4" y="624.7"/>
<use href="#pcG" x="1123.4" y="624.7"/>
<use href="#pcO" x="445.7" y="624.7"/>
<use href="#pcO" x="1165.7" y="624.7"/>
<use href="#pcR" x="488.0" y="624.7"/>
<use href="#pcR" x="1208.0" y="624.7"/>
<use href="#pcG" x="530.4" y="624.7"/>
<use href="#pcG" x="1250.4" y="624.7"/>
<use href="#pcO" x="572.7" y="624.7"/>
<use href="#pcO" x="1292.7" y="624.7"/>
<use href="#pcR" x="615.1" y="624.7"/>
<use href="#pcR" x="1335.1" y="624.7"/>
<path d="M22.30,32.50V667.00M22.30,32.50H657.40M64.64,32.50V667.00M22.30,74.80H657.40M106.98,32.50V667.00M22.30,117.10H657.40M149.32,32.50V667.00M22.30,159.40H657.40M191.66,32.50V667.00M22.30,201.70H657.40M234.00,32.50V667.00M22.30,244.00H657.40M276.34,32.50V667.00M22.30,286.30H657.40M318.68,32.50V667.00M22.30,328.60H657.40M361.02,32.50V667.00M22.30,370.90H657.40M403.36,32.50V667.00M22.30,413.20H657.40M445.70,32.50V667.00M22.30,455.50H657.40M488.04,32.50V667.00M22.30,497.80H657.40M530.38,32.50V667.00M22.30,540.10H657.40M572.72,32.50V667.00M22.30,582.40H657.40M615.06,32.50V667.00M22.30,624.70H657.40M657.40,32.50V667.00M22.30,667.00H657.40M742.30,32.50V667.00M742.30,32.50H1377.40M784.64,32.50V667.00M742.30,74.80H1377.40M826.98,32.50V667.00M742.30,117.10H1377.40M869.32,32.50V667.00M742.30,159.40H1377.40M911.66,32.50V667.00M742.30,201.70H1377.40M954.00,32.50V667.00M742.30,244.00H1377.40M996.34,32.50V667.00M742.30,286.30H1377.40M1038.68,32.50V667.00M742.30,328.60H1377.40M1081.02,32.50V667.00M742.30,370.90H1377.40M1123.36,32.50V667.00M742.30,413.20H1377.40M1165.70,32.50V667.00M742.30,455.50H1377.40M1208.04,32.50V667.00M742.30,497.80H1377.40M1250.38,32.50V667.00M742.30,540.10H1377.40M1292.72,32.50V667.00M742.30,582.40H1377.40M1335.06,32.50V667.00M742.30,624.70H1377.40M1377.40,32.50V667.00M742.30,667.00H1377.40" stroke="#e8067e" stroke-width="1.4" fill="none"/>
<rect x="699.5" y="0" width="1.6" height="700" fill="#1a9fe0"/>
<text transform="translate(677.8,96.4) rotate(-90)" text-anchor="middle" class="lab">Стор. 2</text>
<text transform="translate(729.9,96.4) rotate(-90)" text-anchor="middle" class="lab">Стор. 8</text>
<text transform="translate(677.8,223.3) rotate(-90)" text-anchor="middle" class="lab">Стор. 3</text>
<text transform="translate(729.9,223.3) rotate(-90)" text-anchor="middle" class="lab">Стор. 9</text>
<text transform="translate(677.8,350.2) rotate(-90)" text-anchor="middle" class="lab">Стор. 4</text>
<text transform="translate(729.9,350.2) rotate(-90)" text-anchor="middle" class="lab">Стор. 10</text>
<text transform="translate(677.8,477.1) rotate(-90)" text-anchor="middle" class="lab">Стор. 5</text>
<text transform="translate(729.9,477.1) rotate(-90)" text-anchor="middle" class="lab">Стор. 11</text>
<text transform="translate(677.8,604.0) rotate(-90)" text-anchor="middle" class="lab">Стор. 6</text>
<text transform="translate(729.9,604.0) rotate(-90)" text-anchor="middle" class="lab">Стор. 7</text>
<text x="22" y="684" class="ft" textLength="122" lengthAdjust="spacingAndGlyphs">© WILDBRAIN (WM) HOLDINGS INC., 2020</text>
<text x="1256" y="684" class="ft" textLength="122" lengthAdjust="spacingAndGlyphs">© WILDBRAIN (WM) HOLDINGS INC., 2020</text>
</svg>
</body></html>
